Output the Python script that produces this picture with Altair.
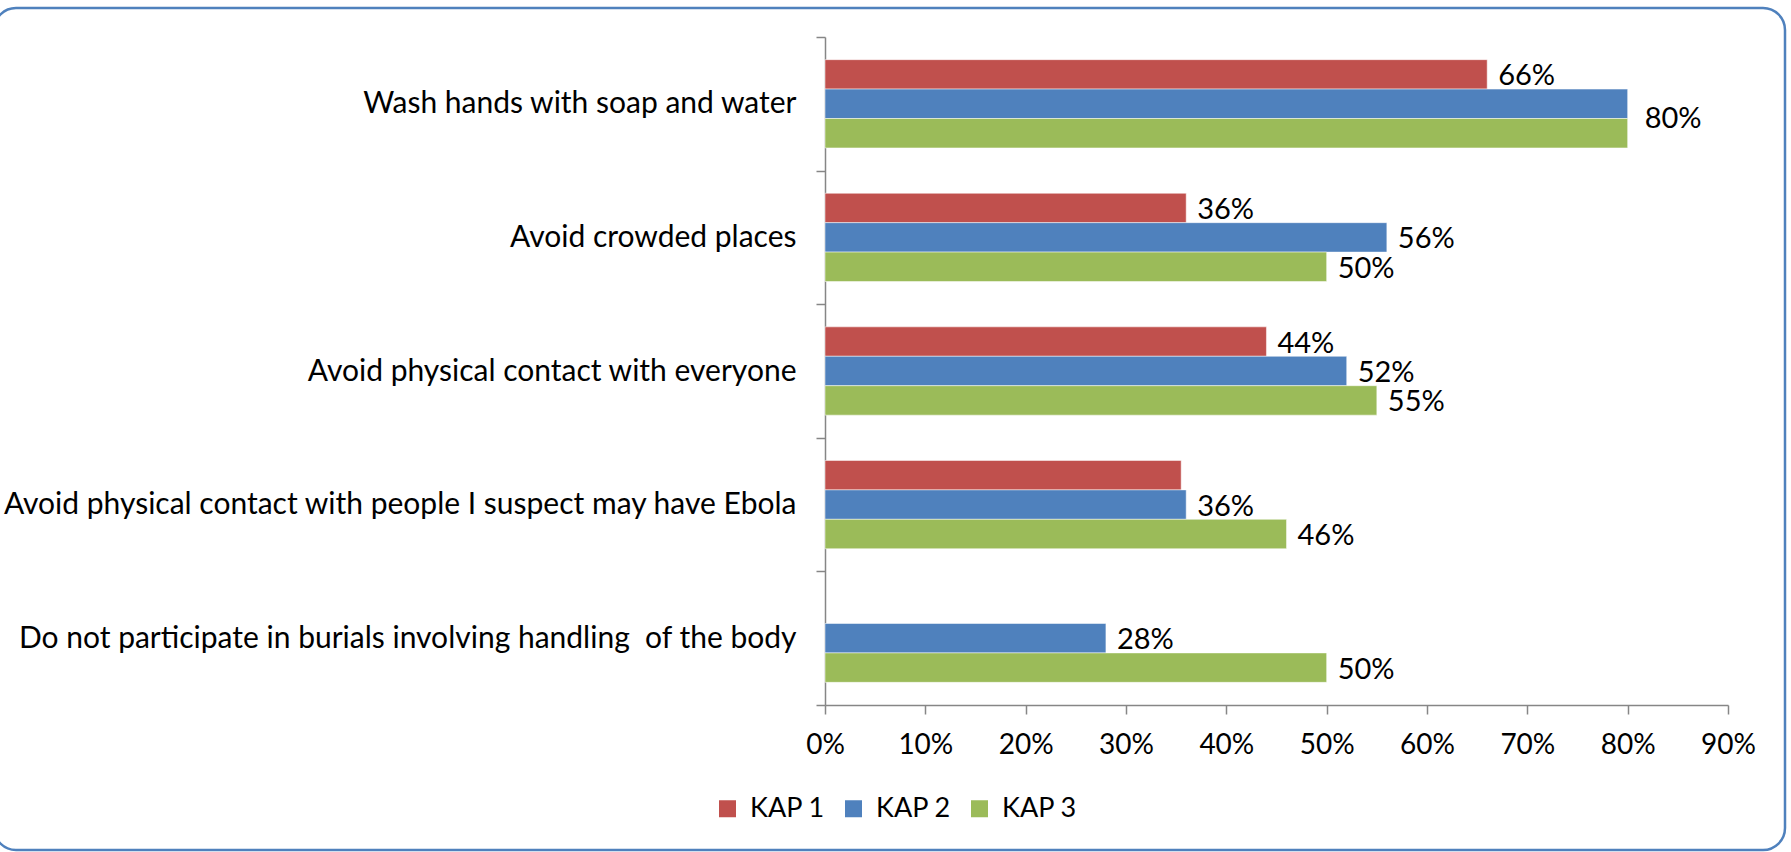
import altair as alt
import pandas as pd

# Share of respondents naming each preventive measure, by survey round
categories = [
    "Wash hands with soap and water",
    "Avoid crowded places",
    "Avoid physical contact with everyone",
    "Avoid physical contact with people I suspect may have Ebola",
    "Do not participate in burials involving handling\u00a0 of the body",
]
series = ["KAP 1", "KAP 2", "KAP 3"]
kap1 = [66, 36, 44, 35.5, None]
kap2 = [80, 56, 52, 36, 28]
kap3 = [80, 50, 55, 46, 50]
# which bars carry a value label
kap1_labelled = [True, True, True, False, False]
kap2_labelled = [False, True, True, True, True]
kap3_labelled = [True, True, True, True, True]
x_ticks = [0, 10, 20, 30, 40, 50, 60, 70, 80, 90]

colors = ["#C0504D", "#4F81BD", "#9BBB59"]
FONT = "Lato"

rows = []
for name, vals, flags in zip(series, [kap1, kap2, kap3],
                             [kap1_labelled, kap2_labelled, kap3_labelled]):
    for cat, v, f in zip(categories, vals, flags):
        if v is None:
            continue
        rows.append({"measure": cat, "round": name, "value": v,
                     "label": f"{v:.0f}%" if f else ""})
df = pd.DataFrame(rows)

W, H = 903, 668
PAD = {"left": 825, "top": 37, "right": 1791 - 825 - W, "bottom": 852 - 37 - H}

y_enc = alt.Y("measure:N", sort=categories,
              scale=alt.Scale(domain=categories, paddingInner=0, paddingOuter=0),
              axis=alt.Axis(title=None, tickBand="extent", labelPadding=20,
                            labelFontSize=30, labelFont=FONT, labelColor="#000000",
                            labelLimit=900))
yoff_enc = alt.YOffset("round:N", scale=alt.Scale(domain=series, paddingInner=0,
                                                  paddingOuter=0.77))
x_enc = alt.X("value:Q", scale=alt.Scale(domain=[0, 90], nice=False),
              axis=alt.Axis(title=None, values=x_ticks, labelExpr="datum.value + '%'",
                            grid=False, labelFlush=False, labelPadding=17,
                            labelFontSize=28, labelFont=FONT, labelColor="#000000"))

base = alt.Chart(df)

bars = base.mark_bar(stroke="#ffffff", strokeOpacity=0.5, strokeWidth=1).encode(
    x=x_enc, y=y_enc, yOffset=yoff_enc,
    color=alt.Color("round:N", scale=alt.Scale(domain=series, range=colors),
                    legend=alt.Legend(title=None, orient="none", direction="horizontal",
                                      legendX=-111, legendY=758, symbolType="square",
                                      symbolSize=289, symbolStrokeWidth=0,
                                      labelFontSize=27, labelFont=FONT,
                                      labelColor="#000000", labelOffset=9,
                                      columnPadding=15)),
)

# value labels sit just right of the bar ends
is_shared = (alt.datum.measure == categories[0]) & (alt.datum["round"] == "KAP 3")
labels = base.mark_text(align="left", baseline="middle", dx=11, dy=2,
                        fontSize=29, font=FONT, color="#000000").encode(
    x="value:Q", y=alt.Y("measure:N", sort=categories), yOffset="round:N", text="label:N"
).transform_filter((alt.datum.label != "") & ~is_shared)

# the top row's equal KAP 2 / KAP 3 bars share a single label between them
shared_label = base.mark_text(align="left", baseline="middle", dx=17, dy=-14,
                              fontSize=29, font=FONT, color="#000000").encode(
    x="value:Q", y=alt.Y("measure:N", sort=categories), yOffset="round:N", text="label:N"
).transform_filter(is_shared)

# rounded outer frame of the chart
frame = alt.Chart(alt.Data(values=[{"f": 1}])).mark_rect(
    fill=None, stroke="#4F81BD", strokeWidth=2.5, cornerRadius=22
).encode(
    x=alt.value(-PAD["left"] - 6), x2=alt.value(W + PAD["right"] - 6),
    y=alt.value(8 - PAD["top"]), y2=alt.value(H + PAD["bottom"] - 2),
)

chart = alt.layer(frame, bars, labels, shared_label).properties(
    width=W, height=H,
    autosize=alt.AutoSizeParams(type="none"),
    padding=PAD,
    background="#ffffff",
).configure_view(stroke=None).configure_axis(
    domainColor="#868686", tickColor="#868686", domainWidth=1.5, tickWidth=1.5, tickSize=9,
)

chart.save("out.html", embed_options={"renderer": "svg", "actions": False})
